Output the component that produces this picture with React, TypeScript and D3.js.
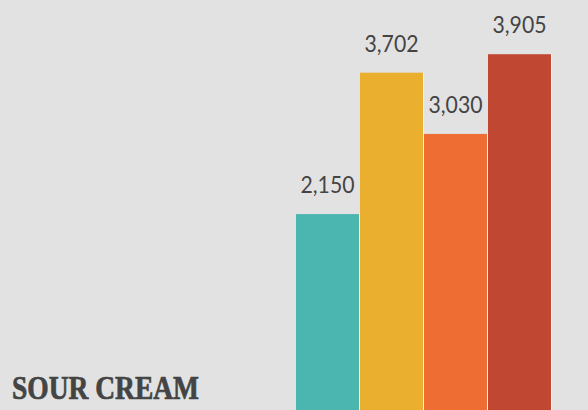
import React from "react";
import * as d3 from "d3";

const categories = ["A", "B", "C", "D"];
const values = [2150, 3702, 3030, 3905];
const colors = ["#4bb5b0", "#eaaf2f", "#ee6d32", "#c04832"];
const title = "SOUR CREAM";

const W = 588;
const H = 410;

export default function App() {
  const x = d3.scaleBand<string>().domain(categories).range([296, 552]).paddingInner(0).paddingOuter(0);
  const y = d3.scaleLinear().domain([0, 4500]).range([H, 0]);
  const fmt = d3.format(",");
  const bw = x.bandwidth();
  return (
    <div style={{ position: "fixed", left: 0, top: 0, width: W, height: H }}>
      <svg width={W} height={H} style={{ display: "block" }}>
        <rect x={0} y={0} width={W} height={H} fill="#e2e2e2" />
        {categories.map((c, i) => (
          <g key={c}>
            <rect x={x(c)!} y={y(values[i])} width={bw - 1} height={H - y(values[i])} fill={colors[i]} />
            <rect x={x(c)! + bw - 1} y={y(values[i])} width={1} height={H - y(values[i])} fill="#f4f4f4" />
            <text
              x={x(c)! + (bw - 1) / 2}
              y={y(values[i]) - 21}
              textAnchor="middle"
              fontFamily="Lato, 'Open Sans', sans-serif"
              fontSize={23.5}
              fill="#444444"
              textLength={54}
              lengthAdjust="spacingAndGlyphs"
            >
              {fmt(values[i])}
            </text>
          </g>
        ))}
        <text
          x={12}
          y={399}
          fontFamily="'Liberation Serif', 'DejaVu Serif', serif"
          fontWeight="bold"
          fontSize={33}
          fill="#444444"
          stroke="#444444"
          strokeWidth={0.7}
          textLength={187}
          lengthAdjust="spacingAndGlyphs"
        >
          {title}
        </text>
      </svg>
    </div>
  );
}
